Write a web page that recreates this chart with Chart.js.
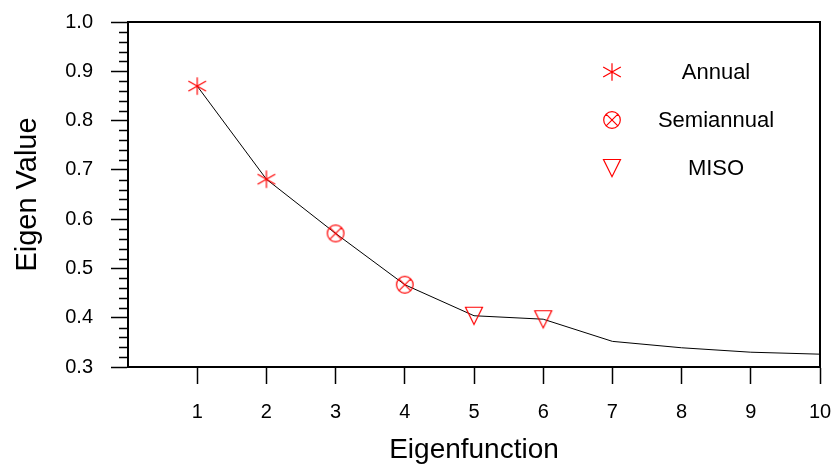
<!DOCTYPE html>
<html>
<head>
<meta charset="utf-8">
<script src="https://cdn.jsdelivr.net/npm/chart.js@4/dist/chart.umd.min.js"></script>
<style>
    body{ margin:0; background:#ffffff; }
    #wrap{ width:835px; height:470px; }
</style>
</head>
<body>
<div id="wrap"><canvas id="eigenChart" width="835" height="470"></canvas></div>
<script>
// eigenvalues of the first ten eigenfunctions
const eigenIndex = [1, 2, 3, 4, 5, 6, 7, 8, 9, 10];
const eigenValues = [0.870, 0.681, 0.571, 0.467, 0.404, 0.397, 0.352, 0.339, 0.330, 0.326];

// which eigenfunctions belong to which mode
const modeLabels = ["Annual", "Semiannual", "MISO"];
const modeMembers = [[1, 2], [3, 4], [5, 6]];

const yTicks = [0.3, 0.4, 0.5, 0.6, 0.7, 0.8, 0.9, 1.0];

const RED = "#ff0000";
const FONT = "'Liberation Sans', Arial, sans-serif";

function makeMarker(draw){
    const c = document.createElement("canvas");
    c.width = 22;
    c.height = 22;
    const g = c.getContext("2d");
    g.strokeStyle = RED;
    g.lineWidth = 1.2;
    g.translate(11, 11);
    draw(g);
    return c;
}

const asterisk = makeMarker(g => {
    g.beginPath();
    for(let a = 90; a < 270; a += 60){
        const r = a * Math.PI / 180;
        const len = a === 90 ? 8.7 : 10.2;
        g.moveTo(Math.cos(r) * len, Math.sin(r) * len);
        g.lineTo(-Math.cos(r) * len, -Math.sin(r) * len);
    }
    g.stroke();
});

const circleX = makeMarker(g => {
    g.beginPath();
    g.arc(0, 0, 8.3, 0, Math.PI * 2);
    const d = 8.3 * Math.SQRT1_2;
    g.moveTo(-d, -d); g.lineTo(d, d);
    g.moveTo(d, -d); g.lineTo(-d, d);
    g.stroke();
});

const triangleDown = makeMarker(g => {
    g.beginPath();
    g.moveTo(-8.5, -8.5);
    g.lineTo(8.5, -8.5);
    g.lineTo(0, 8.7);
    g.closePath();
    g.stroke();
});

const markers = [asterisk, circleX, triangleDown];

const lineData = eigenIndex.map((x, i) => ({x:x, y:eigenValues[i]}));

const markerSets = modeLabels.map((label, m) => ({
    label:label,
    type:"scatter",
    data:modeMembers[m].map(n => ({x:n, y:eigenValues[n - 1]})),
    pointStyle:markers[m],
    pointRadius:10,
    showLine:false,
    order:0
}));

// box round the plot, minor ticks on the y axis, legend on the right
const framePlugin = {
    id:"frame",
    afterDraw(chart){
        const {ctx, chartArea:a, scales} = chart;
        const y = scales.y;
        ctx.save();
        ctx.strokeStyle = "#000";
        ctx.lineWidth = 2;
        ctx.strokeRect(a.left, a.top, a.right - a.left, a.bottom - a.top);

        ctx.lineWidth = 1.5;
        ctx.beginPath();
        for(let v = 30; v <= 100; v += 2){
            if(v % 10 === 0) continue;
            const py = Math.round(y.getPixelForValue(v / 100)) + 0.5;
            ctx.moveTo(a.left - 9, py);
            ctx.lineTo(a.left, py);
        }
        ctx.stroke();

        ctx.font = "22px " + FONT;
        ctx.fillStyle = "#000";
        ctx.textAlign = "center";
        ctx.textBaseline = "middle";
        modeLabels.forEach((label, m) => {
            const rowY = 72 + m * 48;
            ctx.drawImage(markers[m], 612 - 11, rowY - 11);
            ctx.fillText(label, 716, rowY + 1);
        });
        ctx.restore();
    }
};

new Chart(document.getElementById("eigenChart"), {
    type:"line",
    data:{
        datasets:[
            ...markerSets,
            {
                label:"Eigen Value",
                data:lineData,
                borderColor:"#000000",
                borderWidth:1,
                pointRadius:0,
                tension:0,
                fill:false,
                order:1
            }
        ]
    },
    options:{
        responsive:false,
        devicePixelRatio:1,
        animation:false,
        layout:{
            padding:{top:22, right:15, left:0, bottom:0}
        },
        plugins:{
            legend:{display:false},
            tooltip:{enabled:false}
        },
        scales:{
            x:{
                type:"linear",
                min:0,
                max:10,
                afterBuildTicks(scale){
                    scale.ticks = eigenIndex.map(v => ({value:v}));
                },
                afterFit(scale){
                    scale.height = 103;
                    scale.paddingLeft = 0;
                    scale.paddingRight = 0;
                },
                ticks:{
                    color:"#000",
                    padding:16,
                    maxRotation:0,
                    font:{family:FONT, size:20}
                },
                grid:{
                    drawOnChartArea:false,
                    tickLength:17,
                    tickWidth:1.5,
                    tickColor:"#000"
                },
                border:{color:"#000", width:2},
                title:{
                    display:true,
                    text:"Eigenfunction",
                    color:"#000",
                    padding:{top:0, bottom:3},
                    font:{family:FONT, size:28}
                }
            },
            y:{
                min:0.3,
                max:1.0,
                afterBuildTicks(scale){
                    scale.ticks = yTicks.map(v => ({value:v}));
                },
                afterFit(scale){
                    scale.width = 128;
                    scale.paddingTop = 0;
                    scale.paddingBottom = 0;
                },
                ticks:{
                    color:"#000",
                    padding:18,
                    callback:v => v.toFixed(1),
                    font:{family:FONT, size:20}
                },
                grid:{
                    drawOnChartArea:false,
                    tickLength:17,
                    tickWidth:1.5,
                    tickColor:"#000"
                },
                border:{color:"#000", width:2},
                title:{
                    display:true,
                    text:"Eigen Value",
                    color:"#000",
                    padding:{top:11, bottom:0},
                    font:{family:FONT, size:29}
                }
            }
        }
    },
    plugins:[framePlugin]
});
</script>
</body>
</html>
